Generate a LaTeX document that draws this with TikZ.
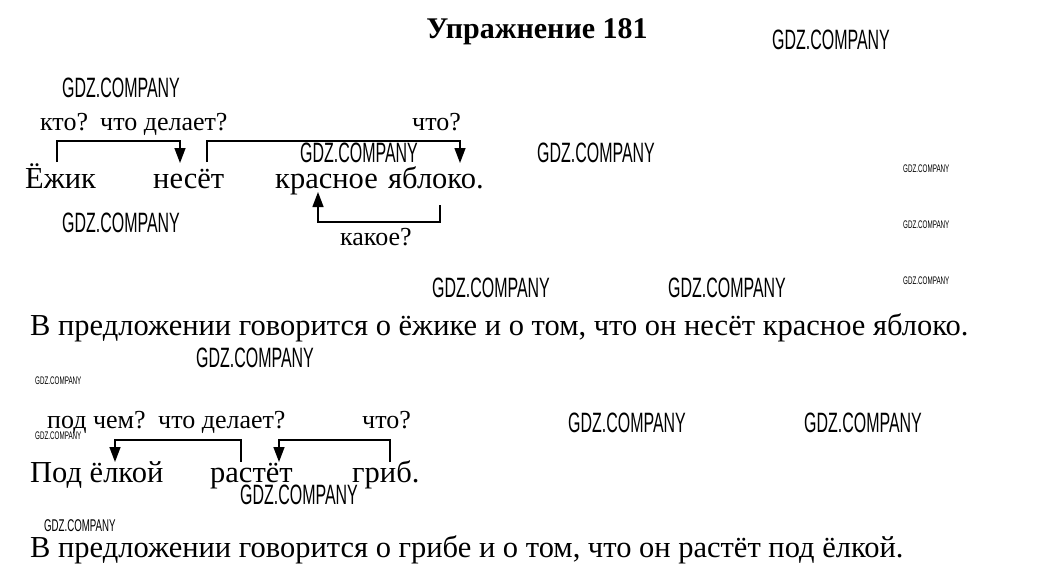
\documentclass[tikz,border=0pt]{standalone}
\usepackage{fontspec}
\usepackage{graphicx}
\setmainfont{Liberation Serif}
\newfontfamily\wmfont{Liberation Sans}
\usetikzlibrary{arrows.meta}
\tikzset{
  heading/.style={anchor=base,inner sep=0pt,font=\bfseries\fontsize{30}{32}\selectfont},
  word/.style={anchor=base west,inner sep=0pt,font=\fontsize{30.5}{32}\selectfont},
  ask/.style={anchor=base west,inner sep=0pt,font=\fontsize{26}{28}\selectfont},
  wm/.style={anchor=west,inner sep=0pt,font=\wmfont\fontsize{28}{29}\selectfont},
  wmsmall/.style={anchor=west,inner sep=0pt,font=\wmfont\fontsize{11}{12}\selectfont},
  wmmid/.style={anchor=west,inner sep=0pt,font=\wmfont\fontsize{17}{18}\selectfont},
  link/.style={line width=1.4pt,-{Triangle[width=11pt,length=15pt]}},
}
\newcommand{\gdz}{\scalebox{0.57}[1]{GDZ.COMPANY}}
\begin{document}
\begin{tikzpicture}[x=1pt,y=-1pt]
  \useasboundingbox[fill=white] (0,0) rectangle (1041,582);
  % heading
  \node[heading] (title) at (537,38) {Упражнение 181};
  % first sentence
  \node[ask] (q1) at (40,130) {кто?};
  \node[ask] (q2) at (100,130) {что делает?};
  \node[ask] (q3) at (412,130) {что?};
  \node[word] (w1) at (25,188) {Ёжик};
  \node[word] (w2) at (153,188) {несёт};
  \node[word] (w3) at (275,188) {красное};
  \node[word] (w4) at (388,188) {яблоко.};
  \node[ask] (q4) at (340,245) {какое?};
  \coordinate (a1) at (57,162);
  \coordinate (b1) at (180,163);
  \coordinate (a2) at (207,162);
  \coordinate (b2) at (460,163);
  \coordinate (a3) at (440,205);
  \coordinate (b3) at (318,192);
  \coordinate (top1) at (0,141);
  \coordinate (low1) at (0,222);
  \draw[link] (a1) -- (a1 |- top1) -- (b1 |- top1) -- (b1);
  \draw[link] (a2) -- (a2 |- top1) -- (b2 |- top1) -- (b2);
  \draw[link] (a3) -- (a3 |- low1) -- (b3 |- low1) -- (b3);
  \node[word] (s1) at (30,335) {В предложении говорится о ёжике и о том, что он несёт красное яблоко.};
  % second sentence
  \node[ask] (q5) at (47,428) {под чем?};
  \node[ask] (q6) at (158,428) {что делает?};
  \node[ask] (q7) at (362,428) {что?};
  \node[word] (v1) at (30,482) {Под ёлкой};
  \node[word] (v2) at (210,482) {растёт};
  \node[word] (v3) at (352,482) {гриб.};
  \coordinate (c1) at (241,462);
  \coordinate (d1) at (115,462);
  \coordinate (c2) at (390,462);
  \coordinate (d2) at (279,462);
  \coordinate (top2) at (0,440);
  \draw[link] (c1) -- (c1 |- top2) -- (d1 |- top2) -- (d1);
  \draw[link] (c2) -- (c2 |- top2) -- (d2 |- top2) -- (d2);
  \node[word] (s2) at (30,557) {В предложении говорится о грибе и о том, что он растёт под ёлкой.};
  % watermarks
  \node[wm] (g1) at (772,40) {\gdz};
  \node[wm] (g2) at (62,88) {\gdz};
  \node[wm] (g3) at (300,153) {\gdz};
  \node[wm] (g4) at (537,153) {\gdz};
  \node[wm] (g5) at (62,223) {\gdz};
  \node[wm] (g6) at (432,288) {\gdz};
  \node[wm] (g7) at (668,288) {\gdz};
  \node[wm] (g8) at (196,358) {\gdz};
  \node[wm] (g9) at (568,423) {\gdz};
  \node[wm] (g10) at (804,423) {\gdz};
  \node[wm] (g11) at (240,495) {\gdz};
  \node[wmsmall] (h1) at (903,169) {\gdz};
  \node[wmsmall] (h2) at (903,225) {\gdz};
  \node[wmsmall] (h3) at (903,281) {\gdz};
  \node[wmsmall] (h4) at (35,381) {\gdz};
  \node[wmsmall] (h5) at (35,436) {\gdz};
  \node[wmmid] (h6) at (44,526) {\gdz};
\end{tikzpicture}
\end{document}
